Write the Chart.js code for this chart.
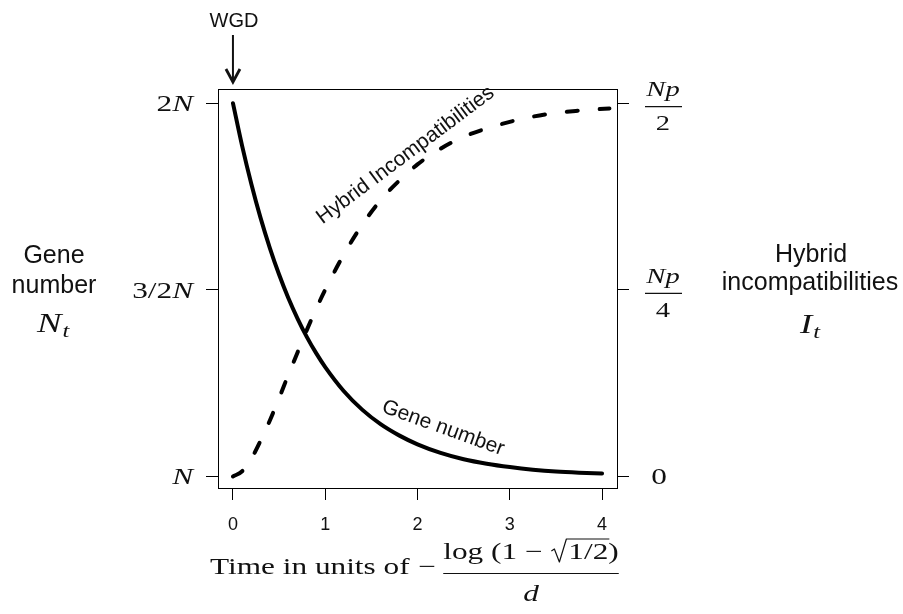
<!DOCTYPE html>
<html lang="en">
<head>
<meta charset="UTF-8">
<title>Gene number and hybrid incompatibilities after WGD</title>
<script src="https://cdn.jsdelivr.net/npm/chart.js@4.4.1/dist/chart.umd.min.js"></script>
<style>
  html, body { margin: 0; padding: 0; background: #fff; }
  #wrap { width: 903px; height: 614px; }
</style>
</head>
<body>
<div id="wrap"><canvas id="chart"></canvas></div>
<script>
// values
const geneTime  = [0, 0.1, 0.2, 0.3, 0.4, 0.5, 0.6, 0.7, 0.8, 0.9, 1.0, 1.2, 1.4, 1.6, 1.8, 2.0, 2.25, 2.5, 2.75, 3.0, 3.25, 3.5, 3.75, 4.0];
const geneCount = [2.0, 1.885, 1.783, 1.692, 1.612, 1.541, 1.478, 1.423, 1.374, 1.331, 1.293, 1.229, 1.179, 1.140, 1.110, 1.086, 1.063, 1.046, 1.034, 1.025, 1.018, 1.013, 1.010, 1.008]; // units of N

const hybridTime  = [0, 0.1, 0.2, 0.3, 0.4, 0.5, 0.6, 0.7, 0.8, 0.9, 1.0, 1.2, 1.4, 1.6, 1.8, 2.0, 2.25, 2.5, 2.75, 3.0, 3.25, 3.5, 3.75, 4.08];
const hybridCount = [0, 0.007, 0.024, 0.048, 0.075, 0.105, 0.136, 0.166, 0.196, 0.224, 0.250, 0.297, 0.337, 0.370, 0.396, 0.418, 0.439, 0.455, 0.466, 0.475, 0.482, 0.487, 0.490, 0.493]; // units of Np

const xTicks = [0, 1, 2, 3, 4];
const leftTicks = [1, 1.5, 2];
const leftTickLabels = ['N', '3/2N', '2N'];
const rightTicks = [0, 0.25, 0.5];
const rightTickLabels = ['0', 'Np/4', 'Np/2'];

const SANS = '"Liberation Sans", Arial, Helvetica, sans-serif';
const SERIF = '"Liberation Serif", "Times New Roman", serif';
const SX = 1.36;   // the math text in the figure is set wide
const INK = '#111';

function serifWidth(ctx, parts, size) {
  let w = 0;
  parts.forEach(([t, it]) => {
    ctx.font = (it ? 'italic ' : '') + size + 'px ' + SERIF;
    w += ctx.measureText(t).width;
  });
  return w * SX;
}

function drawSerif(ctx, parts, x, y, size, align) {
  const w = serifWidth(ctx, parts, size);
  const x0 = align === 'right' ? x - w : align === 'center' ? x - w / 2 : x;
  ctx.save();
  ctx.translate(x0, y);
  ctx.scale(SX, 1);
  ctx.textAlign = 'left';
  ctx.textBaseline = 'alphabetic';
  let cx = 0;
  parts.forEach(([t, it]) => {
    ctx.font = (it ? 'italic ' : '') + size + 'px ' + SERIF;
    ctx.fillText(t, cx, 0);
    cx += ctx.measureText(t).width;
  });
  ctx.restore();
  return w;
}

function sans(ctx, text, x, y, size, align) {
  ctx.font = size + 'px ' + SANS;
  ctx.textAlign = align || 'center';
  ctx.textBaseline = 'alphabetic';
  ctx.fillText(text, x, y);
}

const decorations = {
  id: 'decorations',
  afterDraw(chart) {
    const ctx = chart.ctx;
    const xs = chart.scales.x, ys = chart.scales.y, y2 = chart.scales.y2;
    ctx.save();
    ctx.fillStyle = INK;
    ctx.strokeStyle = INK;

    // x tick labels
    xTicks.forEach(v => sans(ctx, String(v), xs.getPixelForValue(v), 530, 18));

    // left tick labels
    leftTicks.forEach((v, i) => {
      const s = leftTickLabels[i];
      const parts = s.length > 1 ? [[s.slice(0, -1), false], ['N', true]] : [['N', true]];
      drawSerif(ctx, parts, 193, ys.getPixelForValue(v) + 8, 23, 'right');
    });

    // right tick labels, fractions
    rightTicks.forEach((v, i) => {
      const py = y2.getPixelForValue(v);
      const s = rightTickLabels[i];
      if (s.indexOf('/') < 0) {
        drawSerif(ctx, [[s, false]], 659, py + 8, 23, 'center');
      } else {
        const [num, den] = s.split('/');
        drawSerif(ctx, [[num, true]], 663, py - 7, 21, 'center');
        ctx.lineWidth = 1.3;
        ctx.beginPath();
        ctx.moveTo(645, py + 3.5);
        ctx.lineTo(682, py + 3.5);
        ctx.stroke();
        drawSerif(ctx, [[den, false]], 663, py + 27, 21, 'center');
      }
    });

    // side titles
    sans(ctx, 'Gene', 54, 263, 25);
    sans(ctx, 'number', 54, 293, 25);
    let w = drawSerif(ctx, [['N', true]], 37, 332, 27, 'left');
    drawSerif(ctx, [['t', true]], 37 + w + 1, 337, 18, 'left');

    sans(ctx, 'Hybrid', 811, 262, 25);
    sans(ctx, 'incompatibilities', 810, 290, 25);
    w = drawSerif(ctx, [['I', true]], 800, 333, 27, 'left');
    drawSerif(ctx, [['t', true]], 800 + w + 1, 338, 18, 'left');

    // WGD arrow at t = 0
    const x0 = xs.getPixelForValue(0);
    sans(ctx, 'WGD', x0 + 1, 27, 20);
    ctx.lineWidth = 2;
    ctx.beginPath();
    ctx.moveTo(x0, 35);
    ctx.lineTo(x0, 82);
    ctx.stroke();
    ctx.lineWidth = 2.8;
    ctx.lineJoin = 'miter';
    ctx.beginPath();
    ctx.moveTo(x0 - 7, 69);
    ctx.lineTo(x0, 82);
    ctx.lineTo(x0 + 7, 69);
    ctx.stroke();

    // curve labels
    ctx.save();
    ctx.translate(xs.getPixelForValue(1.908), ys.getPixelForValue(1.848));
    ctx.rotate(-36.8 * Math.PI / 180);
    sans(ctx, 'Hybrid Incompatibilities', 0, 0, 21);
    ctx.restore();
    ctx.save();
    ctx.translate(xs.getPixelForValue(2.256), ys.getPixelForValue(1.115));
    ctx.rotate(19.9 * Math.PI / 180);
    sans(ctx, 'Gene number', 0, 0, 21);
    ctx.restore();

    // x axis title: Time in units of -log(1 - sqrt(1/2)) / d
    drawSerif(ctx, [['Time in units of', false]], 210, 574, 23, 'left');
    drawSerif(ctx, [['\u2212', false]], 427, 574, 23, 'center');
    const nb = 559;
    const p1 = [['log (1 \u2212 ', false]];
    const p2 = [['1/2', false]];
    const p3 = [[')', false]];
    const w1 = serifWidth(ctx, p1, 23), w2 = serifWidth(ctx, p2, 23), w3 = serifWidth(ctx, p3, 23);
    const rad = 18;
    const total = w1 + rad + w2 + w3;
    let cx = 531 - total / 2;
    drawSerif(ctx, p1, cx, nb, 23, 'left');
    cx += w1;
    ctx.lineWidth = 1.2;
    ctx.lineJoin = 'round';
    ctx.beginPath();
    ctx.moveTo(cx + 1, nb - 8);
    ctx.lineTo(cx + 4, nb - 10);
    ctx.lineTo(cx + 9, nb + 3);
    ctx.lineTo(cx + 16, nb - 20);
    ctx.lineTo(cx + rad + w2 + 1, nb - 20);
    ctx.stroke();
    drawSerif(ctx, p2, cx + rad, nb, 23, 'left');
    cx += rad + w2;
    drawSerif(ctx, p3, cx, nb, 23, 'left');
    ctx.beginPath();
    ctx.moveTo(531 - total / 2, 573.5);
    ctx.lineTo(531 + total / 2, 573.5);
    ctx.stroke();
    drawSerif(ctx, [['d', true]], 531, 601, 23, 'center');

    ctx.restore();
  }
};

const edge = { display: true, color: '#000', width: 1 };
const tickMarks = { display: true, drawOnChartArea: false, drawTicks: true, tickLength: 12, color: '#000', lineWidth: 1 };

new Chart(document.getElementById('chart'), {
  type: 'line',
  data: {
    datasets: [
      {
        label: 'Gene number',
        data: geneTime.map((t, i) => ({ x: t, y: geneCount[i] })),
        yAxisID: 'y',
        borderColor: '#000',
        borderWidth: 4,
        borderCapStyle: 'round',
        pointRadius: 0,
        cubicInterpolationMode: 'monotone'
      },
      {
        label: 'Hybrid Incompatibilities',
        data: hybridTime.map((t, i) => ({ x: t, y: hybridCount[i] })),
        yAxisID: 'y2',
        borderColor: '#000',
        borderWidth: 4,
        borderDash: [11, 22],
        borderCapStyle: 'round',
        pointRadius: 0,
        cubicInterpolationMode: 'monotone'
      }
    ]
  },
  options: {
    responsive: true,
    maintainAspectRatio: false,
    animation: false,
    layout: { padding: 0 },
    plugins: { legend: { display: false }, tooltip: { enabled: false } },
    scales: {
      x: {
        type: 'linear', position: 'bottom', min: -0.162, max: 4.162,
        afterBuildTicks: s => { s.ticks = xTicks.map(v => ({ value: v })); },
        afterFit: s => { s.height = 126; },
        ticks: { display: false },
        grid: tickMarks, border: edge
      },
      x2: {
        type: 'linear', position: 'top', min: -0.162, max: 4.162,
        afterFit: s => { s.height = 89; },
        ticks: { display: false },
        grid: { display: false }, border: edge
      },
      y: {
        type: 'linear', position: 'left', min: 0.969, max: 2.038,
        afterBuildTicks: s => { s.ticks = leftTicks.map(v => ({ value: v })); },
        afterFit: s => { s.width = 218; },
        ticks: { display: false },
        grid: tickMarks, border: edge
      },
      y2: {
        type: 'linear', position: 'right', min: -0.0155, max: 0.519,
        afterBuildTicks: s => { s.ticks = rightTicks.map(v => ({ value: v })); },
        afterFit: s => { s.width = 286; },
        ticks: { display: false },
        grid: tickMarks, border: edge
      }
    }
  },
  plugins: [decorations]
});
</script>
</body>
</html>
